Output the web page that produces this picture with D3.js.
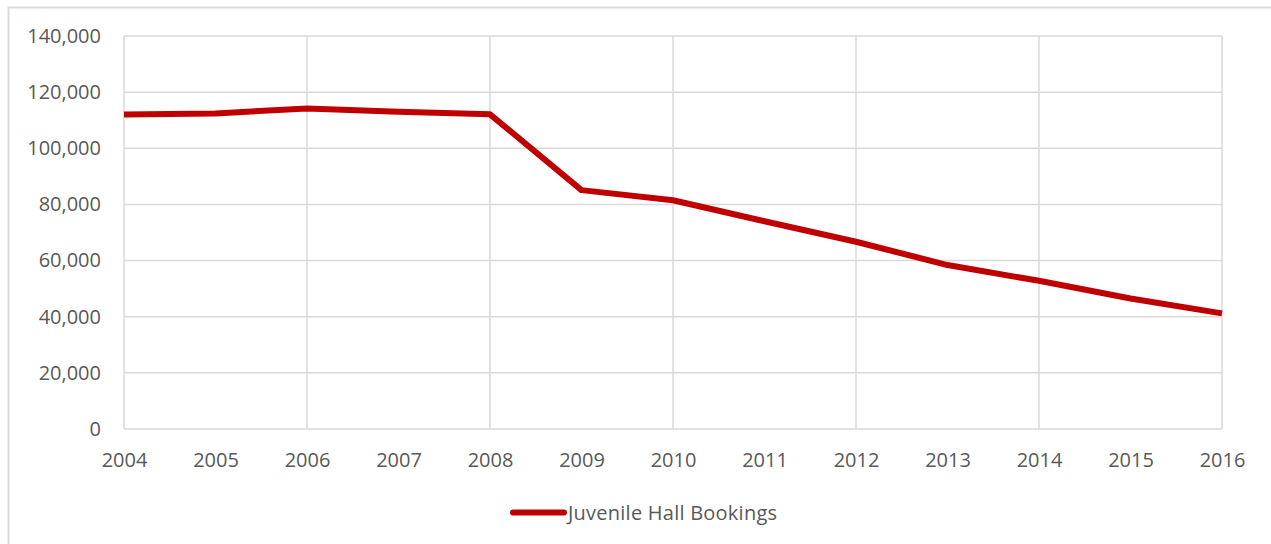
<!DOCTYPE html>
<html>
<head>
<meta charset="utf-8">
<script src="https://cdn.jsdelivr.net/npm/d3@7"></script>
<style>
  html, body { margin: 0; padding: 0; background: #fff; }
  svg text { font-family: "Open Sans", sans-serif; fill: #595959; }
</style>
</head>
<body>
<svg id="chart" width="1271" height="544"></svg>
<script>
const years = [2004, 2005, 2006, 2007, 2008, 2009, 2010, 2011, 2012, 2013, 2014, 2015, 2016];
const bookings = [112000, 112400, 114200, 113000, 112100, 85100, 81500, 74000, 66700, 58400, 52800, 46500, 41200];
const yTicks = [0, 20000, 40000, 60000, 80000, 100000, 120000, 140000];
const xGridYears = [2004, 2006, 2008, 2010, 2012, 2014, 2016];
const seriesName = "Juvenile Hall Bookings";

const svg = d3.select("#chart");
const W = 1271, H = 544;
const mLeft = 124, mRight = 1222, mTop = 36, mBottom = 429;

// chart border
svg.append("path")
  .attr("d", `M8.5,${H} L8.5,7.5 L${W},7.5`)
  .attr("fill", "none").attr("stroke", "#d9d9d9").attr("stroke-width", 2);

const x = d3.scaleLinear().domain([2004, 2016]).range([mLeft, mRight]);
const y = d3.scaleLinear().domain([0, 140000]).range([mBottom, mTop]);

// horizontal gridlines
svg.append("g").selectAll("line").data(yTicks).join("line")
  .attr("x1", mLeft).attr("x2", mRight)
  .attr("y1", d => y(d)).attr("y2", d => y(d))
  .attr("stroke", "#d9d9d9").attr("stroke-width", 1.5);

// vertical gridlines
svg.append("g").selectAll("line").data(xGridYears).join("line")
  .attr("y1", mTop).attr("y2", mBottom)
  .attr("x1", d => x(d)).attr("x2", d => x(d))
  .attr("stroke", "#d9d9d9").attr("stroke-width", 1.5);

// y axis labels
const fmt = d3.format(",");
const yAxis = d3.axisLeft(y).tickValues(yTicks).tickFormat(fmt).tickSize(0).tickPadding(0);
const gy = svg.append("g").attr("transform", `translate(${mLeft - 23},0)`).call(yAxis);
gy.select(".domain").remove();
gy.selectAll("text").attr("font-size", 20).attr("font-family", "Open Sans").attr("fill", "#595959").attr("dy", "0.32em");

// x axis labels
const xAxis = d3.axisBottom(x).tickValues(years).tickFormat(d3.format("d")).tickSize(0).tickPadding(0);
const gx = svg.append("g").attr("transform", `translate(0,${mBottom + 34})`).call(xAxis);
gx.select(".domain").remove();
gx.selectAll("text").attr("font-size", 20).attr("font-family", "Open Sans").attr("fill", "#595959").attr("dy", "0.2em");

// line
const line = d3.line().x((d, i) => x(years[i])).y(d => y(d));
svg.append("path")
  .datum(bookings)
  .attr("d", line)
  .attr("fill", "none")
  .attr("stroke", "#C00000")
  .attr("stroke-width", 6)
  .attr("stroke-linejoin", "round")
  .attr("stroke-linecap", "butt");

// legend
const lg = svg.append("g");
lg.append("line")
  .attr("x1", 513).attr("x2", 564).attr("y1", 512.5).attr("y2", 512.5)
  .attr("stroke", "#C00000").attr("stroke-width", 6).attr("stroke-linecap", "round");
lg.append("text")
  .attr("x", 568).attr("y", 512.5).attr("dy", "0.35em")
  .attr("font-size", 20)
  .attr("textLength", 209)
  .text(seriesName);
</script>
</body>
</html>
